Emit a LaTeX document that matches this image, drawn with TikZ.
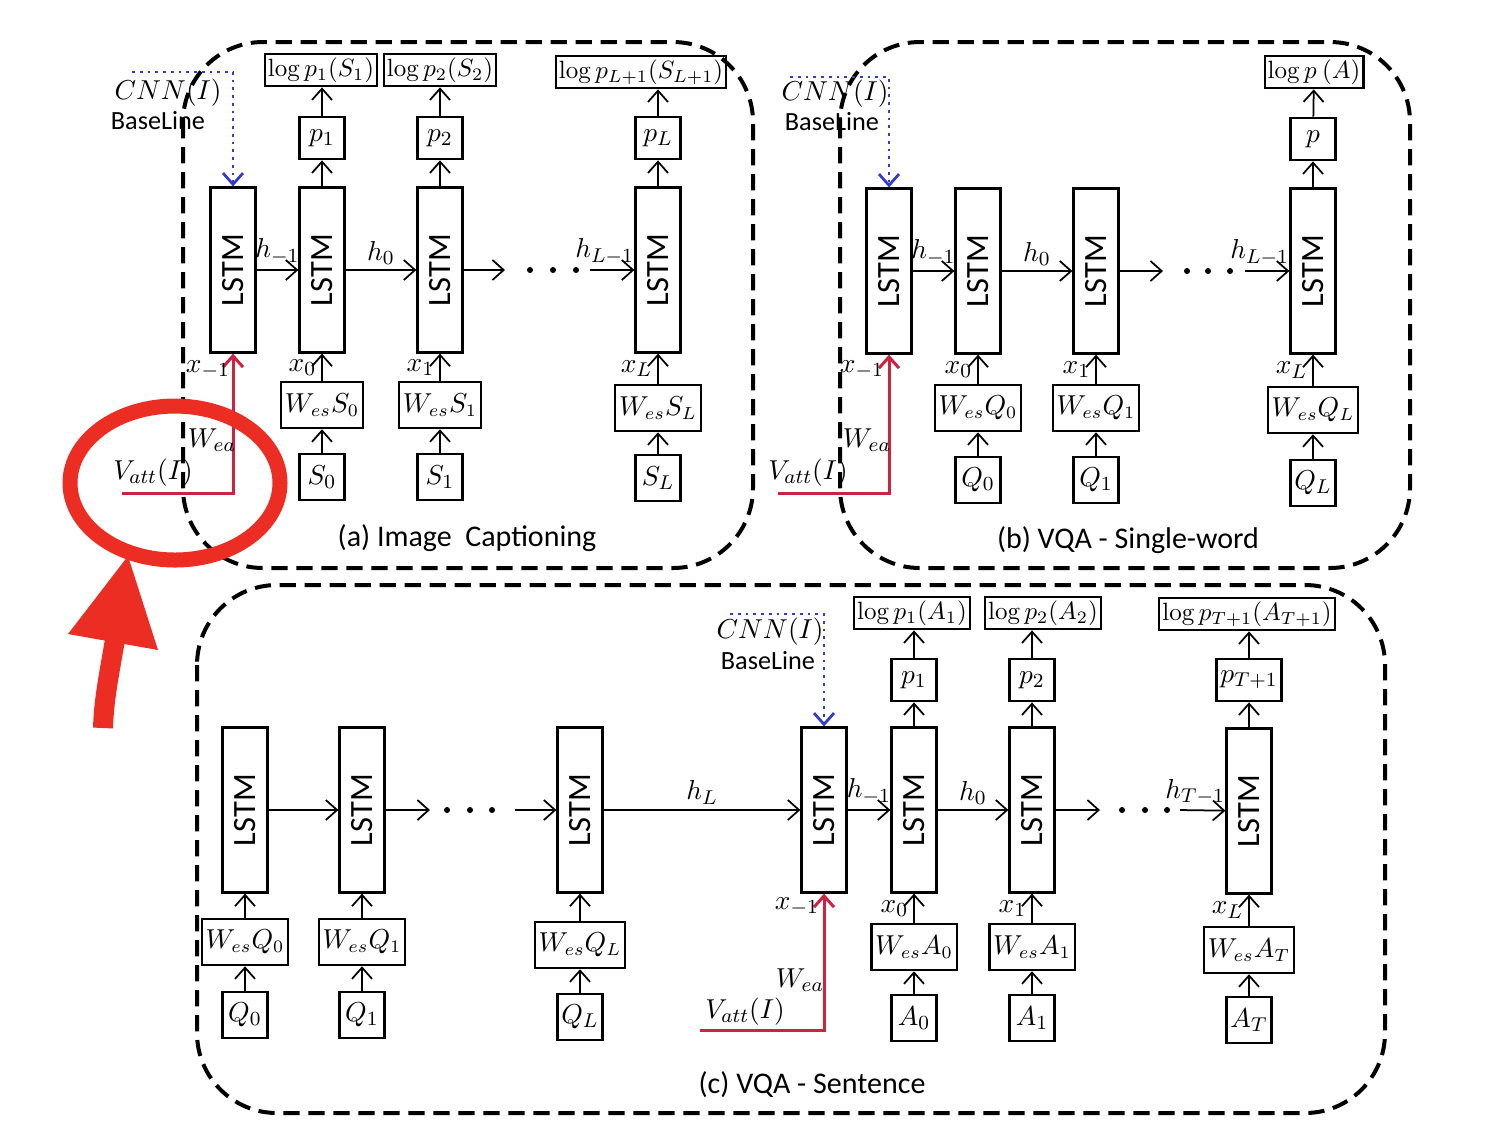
\documentclass[tikz,border=0pt]{standalone}
\usepackage[no-math]{fontspec}
\setmainfont{Carlito}
\usetikzlibrary{arrows.meta}

\definecolor{attred}{RGB}{205,35,65}
\definecolor{cnnblue}{RGB}{50,60,200}
\definecolor{markred}{RGB}{235,45,35}

\begin{document}
\begin{tikzpicture}[%
    x=0.4pt,
    y=-0.4pt,
    >={Straight Barb[length=4.5pt,width=8pt]},
    line width=0.7pt,
    lstm/.style={%
      draw,
      line width=0.9pt,
      minimum width=18pt,
      minimum height=66pt,
      inner sep=0pt,
      font=\fontsize{13}{13}\selectfont
    },
    pbox/.style={draw, line width=0.9pt, minimum width=18pt, minimum height=17pt,
      inner sep=1.5pt, font=\fontsize{11}{12}\selectfont},
    wbox/.style={draw, line width=0.9pt, minimum height=18.5pt, inner sep=1.5pt,
      font=\fontsize{10.5}{12}\selectfont},
    sbox/.style={draw, line width=0.9pt, minimum width=18pt, minimum height=18.5pt,
      inner sep=1.5pt, font=\fontsize{11}{12}\selectfont},
    logbox/.style={draw, line width=0.9pt, minimum height=13pt, inner sep=1.2pt,
      font=\fontsize{9.8}{11}\selectfont},
    lbl/.style={inner sep=2pt, font=\fontsize{11}{12}\selectfont},
    note/.style={inner sep=1pt, font=\fontsize{10.5}{12}\selectfont},
    captext/.style={font=\fontsize{12}{14}\selectfont},
    panel/.style={draw, line width=1.6pt, dash pattern=on 6.5pt off 3.5pt,
      rounded corners=32pt},
    att/.style={draw=attred, line width=1.2pt, ->},
    cnn/.style={draw=cnnblue, line width=1.1pt, dotted, ->}
  ]
    \useasboundingbox (0,0) rectangle (1504,1136);

    % (a) image captioning
    \draw[panel] (183,42) rectangle (753,568);
    \node[lstm]   (la0) at (233,270) {\rotatebox{90}{LSTM}};
    \node[lstm]   (la1) at (322,270) {\rotatebox{90}{LSTM}};
    \node[lstm]   (la2) at (440,270) {\rotatebox{90}{LSTM}};
    \node[lstm]   (la3) at (658,270) {\rotatebox{90}{LSTM}};
    \node[pbox]   (pa1) at (322,138) {$p_1$};
    \node[pbox]   (pa2) at (440,138) {$p_2$};
    \node[pbox]   (pa3) at (658,138) {$p_L$};
    \node[logbox] (ga1) at (321,70)  {$\log p_1(S_1)$};
    \node[logbox] (ga2) at (440,70)  {$\log p_2(S_2)$};
    \node[logbox] (ga3) at (641,72)  {$\log p_{L+1}(S_{L+1})$};
    \node[wbox]   (wa1) at (322,405) {$W_{es}S_0$};
    \node[wbox]   (wa2) at (440,405) {$W_{es}S_1$};
    \node[wbox]   (wa3) at (658,408) {$W_{es}S_L$};
    \node[sbox]   (sa1) at (322,477) {$S_0$};
    \node[sbox]   (sa2) at (440,477) {$S_1$};
    \node[sbox]   (sa3) at (658,478) {$S_L$};
    \coordinate   (enda)   at (505,270);
    \coordinate   (starta) at (590,270);
    \coordinate   (va)     at (122,493);
    \coordinate   (ca)     at (132,72);
    \foreach \x in {530,553,576} \fill (\x,270) circle (3);

    \path[->] (la0) edge node[lbl, above] {$h_{-1}$} (la1)
              (la1) edge node[lbl, above] {$h_0$} (la2)
              (la2) edge (enda)
              (starta) edge node[lbl, above, xshift=-3pt] {$h_{L-1}$} (la3)
              (la1) edge (pa1)
              (la2) edge (pa2)
              (la3) edge (pa3)
              (pa1) edge (pa1 |- ga1.south)
              (pa2) edge (pa2 |- ga2.south)
              (pa3) edge (pa3 |- ga3.south)
              (wa1) edge node[lbl, left] {$x_0$} (la1)
              (wa2) edge node[lbl, left] {$x_1$} (la2)
              (wa3) edge node[lbl, left] {$x_L$} (la3)
              (sa1) edge (wa1)
              (sa2) edge (wa2)
              (sa3) edge (wa3);
    \draw[att] (va) -| (la0);
    \draw[cnn] (ca) -| (la0);
    \node[lbl]  (xa0)  at (208,370) {$x_{-1}$};
    \node[lbl]  (wea)  at (212,440) {$W_{ea}$};
    \node[lbl]  (vaa)  at (153,473) {$V_{att}(I)$};
    \node[lbl]  (cnna) at (168,93)  {$CNN(I)$};
    \node[note] (bla)  at (158,121) {BaseLine};
    \node[captext] (capa) at (467,538) {(a) Image\ \ Captioning};

    % (b) VQA single word
    \draw[panel] (840,42) rectangle (1410,568);
    \node[lstm]   (lb0) at (889,271)  {\rotatebox{90}{LSTM}};
    \node[lstm]   (lb1) at (978,271)  {\rotatebox{90}{LSTM}};
    \node[lstm]   (lb2) at (1096,271) {\rotatebox{90}{LSTM}};
    \node[lstm]   (lb3) at (1313,271) {\rotatebox{90}{LSTM}};
    \node[pbox]   (pb3) at (1313,139) {$p$};
    \node[logbox] (gb3) at (1314,72)  {$\log p\ (A)$};
    \node[wbox]   (wb1) at (978,408)  {$W_{es}Q_0$};
    \node[wbox]   (wb2) at (1096,408) {$W_{es}Q_1$};
    \node[wbox]   (wb3) at (1313,410) {$W_{es}Q_L$};
    \node[sbox]   (qb1) at (978,480)  {$Q_0$};
    \node[sbox]   (qb2) at (1096,480) {$Q_1$};
    \node[sbox]   (qb3) at (1313,483) {$Q_L$};
    \coordinate   (endb)   at (1163,271);
    \coordinate   (startb) at (1245,271);
    \coordinate   (vb)     at (778,493);
    \coordinate   (cb)     at (790,77);
    \foreach \x in {1187,1208,1230} \fill (\x,271) circle (3);

    \path[->] (lb0) edge node[lbl, above] {$h_{-1}$} (lb1)
              (lb1) edge node[lbl, above] {$h_0$} (lb2)
              (lb2) edge (endb)
              (startb) edge node[lbl, above, xshift=-3pt] {$h_{L-1}$} (lb3)
              (lb3) edge (pb3)
              (pb3) edge (gb3)
              (wb1) edge node[lbl, left] {$x_0$} (lb1)
              (wb2) edge node[lbl, left] {$x_1$} (lb2)
              (wb3) edge node[lbl, left] {$x_L$} (lb3)
              (qb1) edge (wb1)
              (qb2) edge (wb2)
              (qb3) edge (wb3);
    \draw[att] (vb) -| (lb0);
    \draw[cnn] (cb) -| (lb0);
    \node[lbl]  (xb0)  at (862,370) {$x_{-1}$};
    \node[lbl]  (web)  at (867,440) {$W_{ea}$};
    \node[lbl]  (vab)  at (808,473) {$V_{att}(I)$};
    \node[lbl]  (cnnb) at (835,94)  {$CNN(I)$};
    \node[note] (blb)  at (832,122) {BaseLine};
    \node[captext] (capb) at (1128,540) {(b) VQA - Single-word};

    % (c) VQA sentence
    \draw[panel] (197,585) rectangle (1385,1113);
    \node[lstm]   (le1) at (245,810)  {\rotatebox{90}{LSTM}};
    \node[lstm]   (le2) at (362,810)  {\rotatebox{90}{LSTM}};
    \node[lstm]   (le3) at (580,810)  {\rotatebox{90}{LSTM}};
    \node[wbox]   (we1) at (245,942)  {$W_{es}Q_0$};
    \node[wbox]   (we2) at (362,942)  {$W_{es}Q_1$};
    \node[wbox]   (we3) at (580,945)  {$W_{es}Q_L$};
    \node[sbox]   (qe1) at (245,1015) {$Q_0$};
    \node[sbox]   (qe2) at (362,1015) {$Q_1$};
    \node[sbox]   (qe3) at (580,1017) {$Q_L$};
    \node[lstm]   (ld0) at (824,810)  {\rotatebox{90}{LSTM}};
    \node[lstm]   (ld1) at (914,810)  {\rotatebox{90}{LSTM}};
    \node[lstm]   (ld2) at (1032,810) {\rotatebox{90}{LSTM}};
    \node[lstm]   (ld3) at (1249,811) {\rotatebox{90}{LSTM}};
    \node[pbox]   (pd1) at (914,680)  {$p_1$};
    \node[pbox]   (pd2) at (1032,680) {$p_2$};
    \node[pbox]   (pd3) at (1249,680) {$p_{T+1}$};
    \node[logbox] (gd1) at (912,613)  {$\log p_1(A_1)$};
    \node[logbox] (gd2) at (1043,613) {$\log p_2(A_2)$};
    \node[logbox] (gd3) at (1247,614) {$\log p_{T+1}(A_{T+1})$};
    \node[wbox]   (wd1) at (914,947)  {$W_{es}A_0$};
    \node[wbox]   (wd2) at (1032,947) {$W_{es}A_1$};
    \node[wbox]   (wd3) at (1249,950) {$W_{es}A_T$};
    \node[sbox]   (ad1) at (914,1018) {$A_0$};
    \node[sbox]   (ad2) at (1032,1018) {$A_1$};
    \node[sbox]   (ad3) at (1249,1020) {$A_T$};
    \coordinate   (ende)   at (430,810);
    \coordinate   (starte) at (515,810);
    \coordinate   (endd)   at (1100,810);
    \coordinate   (startd) at (1180,810);
    \coordinate   (vd)     at (700,1030);
    \coordinate   (cd)     at (730,614);
    \foreach \x in {447,470,492} \fill (\x,810) circle (3);
    \foreach \x in {1122,1145,1167} \fill (\x,810) circle (3);

    \path[->] (le1) edge (le2)
              (le2) edge (ende)
              (starte) edge (le3)
              (le3) edge node[lbl, above] {$h_L$} (ld0)
              (we1) edge (le1)
              (we2) edge (le2)
              (we3) edge (le3)
              (qe1) edge (we1)
              (qe2) edge (we2)
              (qe3) edge (we3)
              (ld0) edge node[lbl, above] {$h_{-1}$} (ld1)
              (ld1) edge node[lbl, above] {$h_0$} (ld2)
              (ld2) edge (endd)
              (startd) edge node[lbl, above, xshift=-3pt] {$h_{T-1}$} (ld3)
              (ld1) edge (pd1)
              (ld2) edge (pd2)
              (ld3) edge (pd3)
              (pd1) edge (pd1 |- gd1.south)
              (pd2) edge (pd2 |- gd2.south)
              (pd3) edge (pd3 |- gd3.south)
              (wd1) edge node[lbl, left] {$x_0$} (ld1)
              (wd2) edge node[lbl, left] {$x_1$} (ld2)
              (wd3) edge node[lbl, left] {$x_L$} (ld3)
              (ad1) edge (wd1)
              (ad2) edge (wd2)
              (ad3) edge (wd3);
    \draw[att] (vd) -| (ld0);
    \draw[cnn] (cd) -| (ld0);
    \node[lbl]  (xd0)  at (797,907)  {$x_{-1}$};
    \node[lbl]  (wed)  at (800,980)  {$W_{ea}$};
    \node[lbl]  (vad)  at (745,1012) {$V_{att}(I)$};
    \node[lbl]  (cnnd) at (770,632)  {$CNN(I)$};
    \node[note] (bld)  at (768,661)  {BaseLine};
    \node[captext] (capc) at (812,1085) {(c) VQA - Sentence};

    % red callout
    \draw[markred, line width=6pt] (175,483) ellipse (105 and 77);
    \fill[markred] (128,556) -- (68,634) -- (158,650) -- cycle;
    \draw[markred, line width=8pt] (115,640) .. controls (108,680) and (104,700) .. (103,728);
  \end{tikzpicture}
\end{document}
